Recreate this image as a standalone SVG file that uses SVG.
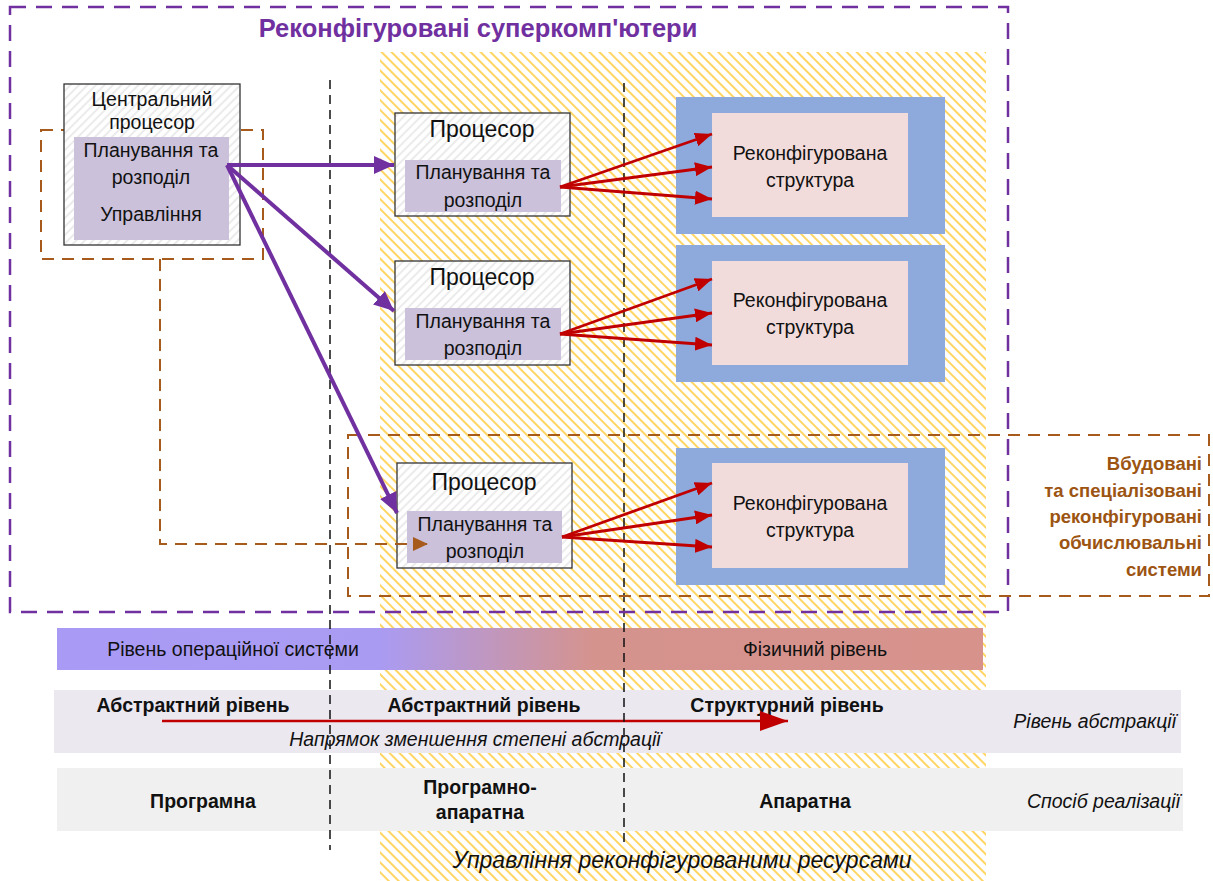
<svg xmlns="http://www.w3.org/2000/svg" width="1213" height="881" viewBox="0 0 1213 881">
<defs>
<style>
text{font-family:"Liberation Sans",Arial,sans-serif;fill:#111;}
.c{text-anchor:middle}
.r{text-anchor:end}
.t17{font-size:19.5px}
.t20{font-size:23px}
.b{font-weight:bold}
.i{font-style:italic}
.br{font-size:18.5px;fill:#9C5412;font-weight:bold;text-anchor:end}
.proc{fill:url(#gray);stroke:#333;stroke-width:1.3}
.inner{fill:#CBC1DB}
.blue{fill:#8EA9DB}
.pink{fill:#F2DCDB}
.pa{stroke:#7030A0;stroke-width:4;fill:none;marker-end:url(#mp)}
.ra{stroke:#C00000;stroke-width:2.8;fill:none;marker-end:url(#mr)}
.vd{stroke:#111;stroke-width:1.5;stroke-dasharray:9 6;fill:none}
.bd{stroke:#A65A1C;stroke-width:2;stroke-dasharray:12 8;fill:none}
</style>
<pattern id="yel" patternUnits="userSpaceOnUse" width="7" height="7" patternTransform="rotate(-45)">
<rect width="7" height="7" fill="#fff"/>
<line x1="2" y1="0" x2="2" y2="7" stroke="#FFC830" stroke-width="1.5"/>
</pattern>
<pattern id="gray" patternUnits="userSpaceOnUse" width="6" height="6" patternTransform="rotate(45)">
<rect width="6" height="6" fill="#fff"/>
<line x1="2" y1="0" x2="2" y2="6" stroke="#D8D8D8" stroke-width="1"/>
</pattern>
<linearGradient id="grad" gradientUnits="userSpaceOnUse" x1="57" y1="0" x2="983" y2="0">
<stop offset="0" stop-color="#A99AF6"/>
<stop offset="0.35" stop-color="#AA9BF2"/>
<stop offset="0.58" stop-color="#D5938D"/>
<stop offset="1" stop-color="#D7928C"/>
</linearGradient>
<marker id="mp" markerUnits="userSpaceOnUse" markerWidth="22" markerHeight="18" refX="20" refY="9" orient="auto">
<path d="M0,0 L20,9 L0,18 Z" fill="#7030A0"/>
</marker>
<marker id="mr" markerUnits="userSpaceOnUse" markerWidth="18" markerHeight="14" refX="17" refY="7" orient="auto">
<path d="M0,0 L17,7 L0,14 Z" fill="#C00000"/>
</marker>
<marker id="mb" markerUnits="userSpaceOnUse" markerWidth="16" markerHeight="14" refX="15" refY="7" orient="auto">
<path d="M0,0 L15,7 L0,14 Z" fill="#A65A1C"/>
</marker>
<marker id="mr2" markerUnits="userSpaceOnUse" markerWidth="30" markerHeight="20" refX="28" refY="10" orient="auto">
<path d="M0,0 L28,10 L0,20 Z" fill="#C00000"/>
</marker>
</defs>

<rect width="1213" height="881" fill="#fff"/>

<!-- hatched region -->
<g id="hatch-region">
<rect x="380" y="52" width="606" height="829" fill="url(#yel)"/>
</g>

<!-- bottom bands -->
<g id="band-os">
<rect x="57" y="628" width="926" height="42" fill="url(#grad)"/>
<text class="t17 c" x="233" y="656">Рівень операційної системи</text>
<text class="t17 c" x="815" y="656">Фізичний рівень</text>
</g>
<g id="band-abstraction">
<rect x="54" y="690" width="1127" height="63" fill="#EBE8F0"/>
<text class="t17 c b" x="193" y="712">Абстрактний рівень</text>
<text class="t17 c b" x="484" y="712">Абстрактний рівень</text>
<text class="t17 c b" x="787" y="712">Структурний рівень</text>
<text class="t17 r i" x="1176" y="728">Рівень абстракції</text>
<line x1="162" y1="721" x2="788" y2="721" stroke="#C00000" stroke-width="2.5" marker-end="url(#mr2)"/>
<text class="t17 c i" x="475" y="746">Напрямок зменшення степені абстрації</text>
</g>
<g id="band-implementation">
<rect x="57" y="768" width="1126" height="63" fill="#F0F0F0"/>
<text class="t17 c b" x="203" y="808">Програмна</text>
<text class="t17 c b" x="480" y="794">Програмно-</text>
<text class="t17 c b" x="480" y="819">апаратна</text>
<text class="t17 c b" x="805" y="808">Апаратна</text>
<text class="t17 r i" x="1180" y="808">Спосіб реалізації</text>
</g>
<g id="resources-label">
<text class="t20 c i" x="682" y="868">Управління реконфігурованими ресурсами</text>
</g>

<!-- vertical dividers -->
<g id="dividers">
<line class="vd" x1="330" y1="80" x2="330" y2="850"/>
<line class="vd" x1="624" y1="83" x2="624" y2="845"/>
</g>

<!-- supercomputer frame -->
<g id="supercomputers">
<rect x="10" y="7" width="998" height="605" fill="none" stroke="#7030A0" stroke-width="2.5" stroke-dasharray="16 10"/>
<text x="478" y="37" class="c b" style="font-size:25.5px;fill:#7030A0">Реконфігуровані суперкомп'ютери</text>
</g>

<!-- embedded frame -->
<g id="embedded">
<rect class="bd" x="348" y="435" width="861" height="161"/>
<text class="br" x="1202" y="470">Вбудовані</text>
<text class="br" x="1202" y="497">та спеціалізовані</text>
<text class="br" x="1202" y="523">реконфігуровані</text>
<text class="br" x="1202" y="549">обчислювальні</text>
<text class="br" x="1202" y="576">системи</text>
</g>

<!-- central processor -->
<g id="central-processor">
<rect class="bd" x="41" y="130" width="222" height="129"/>
<rect class="proc" x="64" y="84" width="176" height="161"/>
<rect class="inner" x="74" y="137" width="155" height="103"/>
<text class="t17 c" x="152" y="106">Центральний</text>
<text class="t17 c" x="152" y="129">процесор</text>
<text class="t17 c" x="151" y="157">Планування та</text>
<text class="t17 c" x="151" y="184">розподіл</text>
<text class="t17 c" x="151" y="221">Управління</text>
</g>

<!-- processors -->
<g id="processor-1">
<rect class="proc" x="395" y="113" width="175" height="103"/>
<rect class="inner" x="405" y="160" width="156" height="52"/>
<text class="t20 c" x="482" y="137">Процесор</text>
<text class="t17 c" x="483" y="179">Планування та</text>
<text class="t17 c" x="483" y="207">розподіл</text>
</g>
<g id="processor-2">
<rect class="proc" x="395" y="261" width="175" height="104"/>
<rect class="inner" x="405" y="308" width="156" height="52"/>
<text class="t20 c" x="482" y="285">Процесор</text>
<text class="t17 c" x="483" y="328">Планування та</text>
<text class="t17 c" x="483" y="355">розподіл</text>
</g>
<g id="processor-3">
<rect class="proc" x="397" y="463" width="175" height="105"/>
<rect class="inner" x="407" y="511" width="155" height="52"/>
<text class="t20 c" x="484" y="490">Процесор</text>
<text class="t17 c" x="485" y="531">Планування та</text>
<text class="t17 c" x="485" y="558">розподіл</text>
</g>

<!-- reconfigurable structures -->
<g id="reconf-1">
<rect class="blue" x="676" y="97" width="269" height="137"/>
<rect class="pink" x="712" y="113" width="196" height="104"/>
<text class="t17 c" x="810" y="160">Реконфігурована</text>
<text class="t17 c" x="810" y="187">структура</text>
</g>
<g id="reconf-2">
<rect class="blue" x="676" y="245" width="269" height="137"/>
<rect class="pink" x="712" y="261" width="196" height="104"/>
<text class="t17 c" x="810" y="307">Реконфігурована</text>
<text class="t17 c" x="810" y="334">структура</text>
</g>
<g id="reconf-3">
<rect class="blue" x="676" y="448" width="269" height="137"/>
<rect class="pink" x="712" y="463" width="196" height="105"/>
<text class="t17 c" x="810" y="510">Реконфігурована</text>
<text class="t17 c" x="810" y="537">структура</text>
</g>

<!-- connectors -->
<g id="connectors">
<path d="M160,259 V544 H428" class="bd" marker-end="url(#mb)"/>
<line class="pa" x1="227" y1="165" x2="394" y2="165"/>
<line class="pa" x1="227" y1="165" x2="394" y2="311"/>
<line class="pa" x1="227" y1="165" x2="397" y2="513"/>
<line class="ra" x1="560" y1="187" x2="712" y2="134"/>
<line class="ra" x1="560" y1="187" x2="712" y2="167"/>
<line class="ra" x1="560" y1="187" x2="712" y2="199"/>
<line class="ra" x1="560" y1="334" x2="712" y2="279"/>
<line class="ra" x1="560" y1="334" x2="712" y2="313"/>
<line class="ra" x1="560" y1="334" x2="712" y2="345"/>
<line class="ra" x1="562" y1="537" x2="712" y2="483"/>
<line class="ra" x1="562" y1="537" x2="712" y2="515"/>
<line class="ra" x1="562" y1="537" x2="712" y2="547"/>
</g>
</svg>
